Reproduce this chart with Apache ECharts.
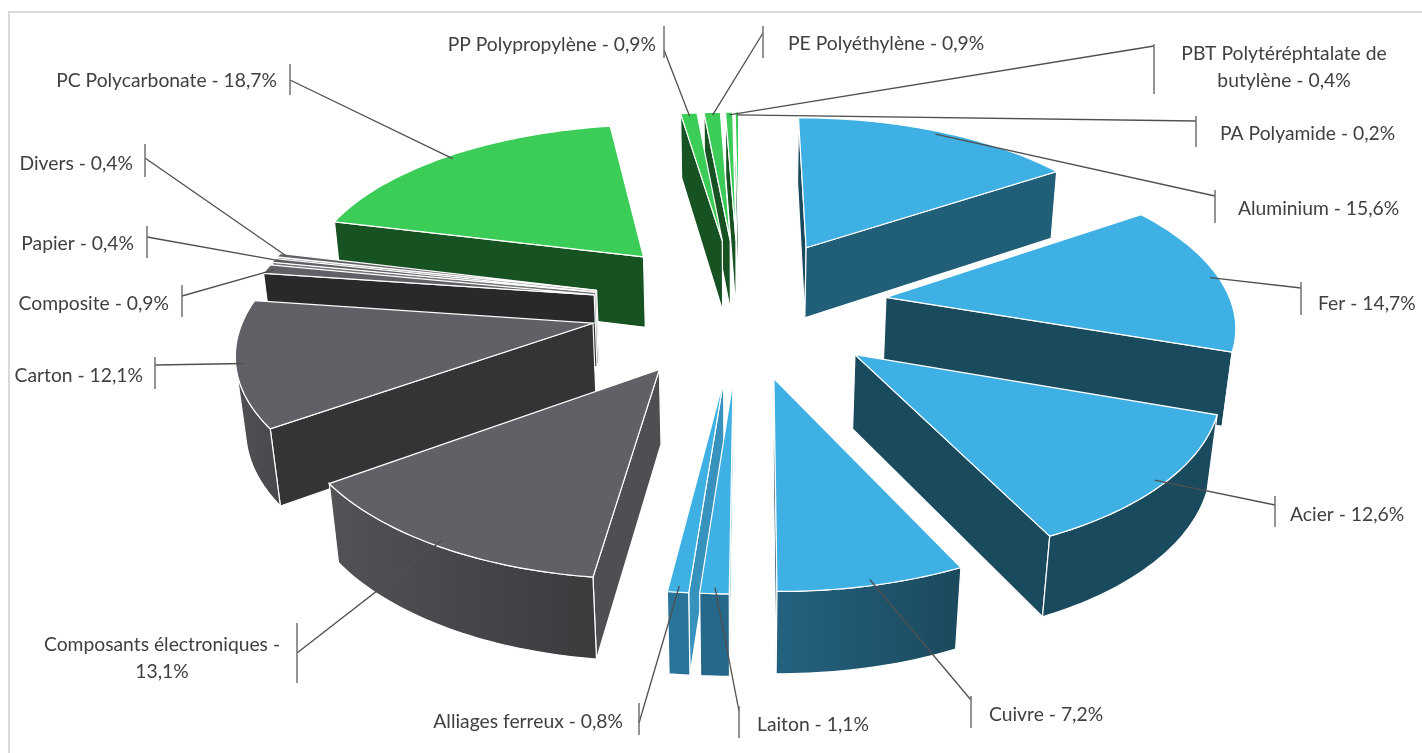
<!DOCTYPE html>
<html>
<head>
<meta charset="utf-8">
<title>Composition</title>
<script src="https://cdn.jsdelivr.net/npm/echarts@6/dist/echarts.min.js"></script>
<style>
  html, body { margin: 0; background: #fff; }
  #chart { width: 1422px; height: 753px; }
</style>
</head>
<body>
<div id="chart"></div>
<script>
// slices, clockwise from 12 o'clock
const categories = [
  'Aluminium', 'Fer', 'Acier', 'Cuivre', 'Laiton', 'Alliages ferreux',
  'Composants électroniques', 'Carton', 'Composite', 'Papier', 'Divers',
  'PC Polycarbonate', 'PP Polypropylène', 'PE Polyéthylène',
  'PBT Polytéréphtalate de butylène', 'PA Polyamide'
]
const shares = [15.6, 14.7, 12.6, 7.2, 1.1, 0.8, 13.1, 12.1, 0.9, 0.4, 0.4, 18.7, 0.9, 0.9, 0.4, 0.2]

// face colours per slice
const blue = '#3EB0E4', navy = '#1A4A5E', grey = '#606166', green = '#3CCC58', forest = '#175222'
const topColors = [blue, blue, blue, blue, blue, blue, grey, grey, grey, grey, grey, green, green, green, green, green]
const startWalls = [navy, navy, navy, navy, '#3F9EC8', '#3792BD', '#4E4F52', '#333436', '#28292B', '#77787B', '#8A8B8E', forest, forest, forest, forest, forest]
const endWalls = ['#215E78', navy, navy, navy, '#3F9EC8', '#3792BD', '#4E4F52', '#333436', '#28292B', '#77787B', '#8A8B8E', forest, forest, forest, forest, forest]
const outerLeft = [navy, navy, navy, '#24627F', '#25688A', '#2A7399', '#525357', '#505155', '#505155', '#77787B', '#8A8B8E', forest, forest, forest, forest, forest]
const outerRight = [navy, navy, navy, '#1B495D', '#25688A', '#2A7399', '#3B3B3E', '#47484B', '#47484B', '#77787B', '#8A8B8E', forest, forest, forest, forest, forest]

// callouts: bar x, bar top, bar bottom, elbow y, text x, text y, text align
const callouts = [
  [1215, 190, 223, 196, 1238, 209, 'left'],
  [1301, 282, 315, 288, 1318, 304, 'left'],
  [1275, 496, 527, 505, 1290, 515, 'left'],
  [971, 696, 728, 700, 989, 715, 'left'],
  [739, 706, 738, 711, 757, 725, 'left'],
  [639, 703, 735, 723, 623, 722, 'right'],
  [297, 623, 683, 653, 162, 658, 'center'],
  [155, 357, 389, 365, 143, 376, 'right'],
  [182, 285, 317, 296, 169, 304, 'right'],
  [147, 226, 258, 237, 134, 244, 'right'],
  [145, 144, 177, 158, 133, 164, 'right'],
  [290, 64, 95, 80, 277, 81, 'right'],
  [664, 26, 58, 50, 656, 45, 'right'],
  [763, 26, 58, 33, 788, 44, 'left'],
  [1154, 44, 94, 46, 1284, 67, 'center'],
  [1196, 116, 147, 121, 1220, 134, 'left']
]

// the tilted camera, fitted on the reference
const view = { cx: 739.5, a: 346, p: 120.7, q: 306.3, k: 0.1355, l: 0.02, d: 80, explode: 0.43 }

function project (x, z, h) {
  const w = 1 - view.k * z + view.l * h
  return [view.cx + view.a * x / w, (view.p * z + view.q + view.d * h) / w]
}

// signed area in screen space, used to drop faces turned away from the camera
function area (pts) {
  let s = 0
  pts.forEach((p, i) => {
    const n = pts[(i + 1) % pts.length]
    s += p[0] * n[1] - n[0] * p[1]
  })
  return s
}

const sliceAngles = []
let total = 0
shares.forEach(v => {
  sliceAngles.push([total / 100 * Math.PI * 2, (total + v) / 100 * Math.PI * 2])
  total += v
})

// far slices are painted first
const paintOrder = shares.map((v, i) => i).sort((a, b) => {
  const mid = i => (sliceAngles[i][0] + sliceAngles[i][1]) / 2
  return Math.cos(mid(b)) - Math.cos(mid(a))
})

function labelText (i) {
  const value = shares[i].toString().replace('.', ',') + '%'
  if (i === 6) return categories[i] + ' -\n' + value
  if (i === 14) return 'PBT Polytéréphtalate de\nbutylène - ' + value
  return categories[i] + ' - ' + value
}

function renderSlice (params, api) {
  const i = params.dataIndex
  const [a0, a1] = sliceAngles[i]
  const mid = (a0 + a1) / 2
  const ox = Math.sin(mid) * view.explode
  const oz = -Math.cos(mid) * view.explode
  const rim = (t, h, r = 1) => project(ox + r * Math.sin(t), oz - r * Math.cos(t), h)
  const tip = h => project(ox, oz, h)
  const rank = paintOrder.indexOf(i) * 10
  const children = []

  const face = (pts, fill, z) => children.push({
    type: 'polygon',
    z2: rank + z,
    shape: { points: pts },
    style: { fill: fill, stroke: '#fff', lineWidth: 1.2 }
  })

  const startFace = [tip(0), rim(a0, 0), rim(a0, 1), tip(1)]
  const endFace = [tip(0), rim(a1, 0), rim(a1, 1), tip(1)]
  if (area(startFace) < 0) face(startFace, startWalls[i], 1)
  if (area(endFace) > 0) face(endFace, endWalls[i], 1)

  const steps = Math.max(2, Math.ceil((a1 - a0) / 0.02))
  const arc = []
  const topEdge = []
  const lowEdge = []
  for (let s = 0; s <= steps; s++) {
    arc.push(a0 + (a1 - a0) * s / steps)
  }
  arc.forEach((t, s) => {
    topEdge.push(rim(t, 0))
    if (s === steps) return
    const n = arc[s + 1]
    if (area([rim(t, 0), rim(n, 0), rim(n, 1), rim(t, 1)]) < 0) {
      lowEdge.push([t, n])
    }
  })
  if (lowEdge.length) {
    const seen = [lowEdge[0][0]].concat(lowEdge.map(d => d[1]))
    const wall = seen.map(t => rim(t, 0)).concat(seen.slice().reverse().map(t => rim(t, 1)))
    face(wall, new echarts.graphic.LinearGradient(0, 0, 1, 0, [
      { offset: 0, color: outerLeft[i] },
      { offset: 1, color: outerRight[i] }
    ]), 2)
  }
  face([tip(0)].concat(topEdge), topColors[i], 3)

  // leader line and label sit above every slice
  const c = callouts[i]
  children.push({
    type: 'polyline',
    z2: 1000,
    shape: { points: [rim(mid, 0, 0.975), [c[0], c[3]]] },
    style: { fill: null, stroke: '#505050', lineWidth: 1.3 }
  }, {
    type: 'line',
    z2: 1000,
    shape: { x1: c[0], y1: c[1], x2: c[0], y2: c[2] },
    style: { stroke: '#707070', lineWidth: 1.5 }
  }, {
    type: 'text',
    z2: 1001,
    style: {
      text: labelText(i),
      x: c[4],
      y: c[5],
      fill: '#404040',
      font: '19.3px Lato',
      lineHeight: 27,
      align: c[6],
      verticalAlign: 'middle'
    }
  })
  return { type: 'group', children: children }
}

const chartInstance = echarts.init(document.getElementById('chart'))
chartInstance.setOption({
  animation: false,
  backgroundColor: '#fff',
  graphic: [{
    type: 'polyline',
    shape: { points: [[9, 753], [9, 12], [1422, 12]] },
    style: { fill: null, stroke: '#D9D9D9', lineWidth: 2 }
  }],
  series: [{
    type: 'custom',
    coordinateSystem: 'none',
    renderItem: renderSlice,
    data: shares.map((v, i) => ({ name: categories[i], value: [v] }))
  }]
})
</script>
</body>
</html>
